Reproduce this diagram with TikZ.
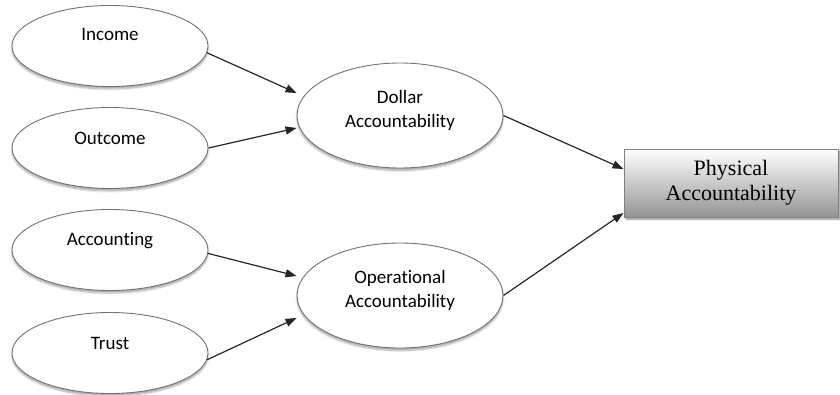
\documentclass[tikz,border=0pt]{standalone}
\usepackage{fontspec}
\setmainfont{Carlito}[Ligatures={NoCommon}]
\newfontfamily\boxfont{Liberation Serif}
\usetikzlibrary{shapes.geometric,arrows.meta,shadows.blur}
\begin{document}
\begin{tikzpicture}[x=1pt,y=-1pt,
  oval/.style={ellipse,draw=black!55,line width=0.9pt,fill=white,inner sep=0pt,
    blur shadow={shadow xshift=0pt,shadow yshift=-2.5pt,shadow opacity=35,shadow blur steps=6}},
  small/.style={minimum width=196pt,minimum height=81pt},
  big/.style={minimum width=206pt,minimum height=105pt},
  ovaltext/.style={font=\fontsize{19}{24}\selectfont,align=center,text=black,inner sep=0pt},
  target/.style={rectangle,draw=black!50,line width=1pt,top color=white,bottom color=black!42,
    minimum width=214pt,minimum height=68pt,inner sep=0pt,align=center,
    font=\boxfont\fontsize{22}{25}\selectfont,text=black,
    blur shadow={shadow xshift=2pt,shadow yshift=-2pt,shadow opacity=45,shadow blur steps=5}},
  arr/.style={-{Triangle[length=11pt,width=8pt]},line width=1.2pt,draw=black!85}
]
\useasboundingbox (0,0) rectangle (840,394);

% input factors
\node[oval,small] (income)     at (110,46)  {};
\node[oval,small] (outcome)    at (110,148) {};
\node[oval,small] (accounting) at (110,250) {};
\node[oval,small] (trust)      at (110,353) {};

\node[ovaltext] (incomet)     at ([yshift=12pt]income.center)     {Income};
\node[ovaltext] (outcomet)    at ([yshift=10pt]outcome.center)    {Outcome};
\node[ovaltext] (accountingt) at ([yshift=9pt]accounting.center)  {Accounting};
\node[ovaltext] (trustt)      at ([yshift=10pt]trust.center)      {Trust};

% intermediate constructs
\node[oval,big] (dollar)      at (400,115.5) {};
\node[oval,big] (operational) at (400,295.5) {};
\node[ovaltext] (dollart)      at ([yshift=5pt]dollar.center)      {Dollar\\Accountability};
\node[ovaltext] (operationalt) at ([yshift=5.5pt]operational.center) {Operational\\Accountability};

% outcome construct
\node[target] (phys) at (731,183) {Physical\\Accountability};

% connectors
\draw[arr] (income.-4)     -- ([yshift=22.5pt]dollar.west);
\draw[arr] (outcome.east)  -- ([yshift=-12.5pt]dollar.west);
\draw[arr] (accounting.-2) -- ([yshift=19.5pt]operational.west);
\draw[arr] (trust.-4)      -- ([yshift=-22.5pt]operational.west);
\draw[arr] (dollar.east)      -- ([yshift=14pt]phys.west);
\draw[arr] (operational.east) -- ([yshift=-30pt]phys.west);
\end{tikzpicture}
\end{document}
